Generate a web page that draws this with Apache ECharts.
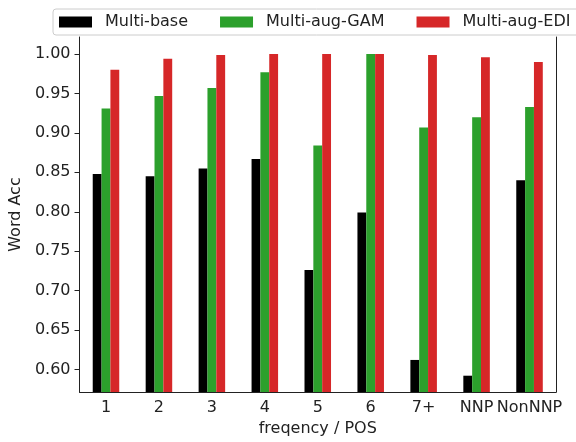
<!DOCTYPE html>
<html>
<head>
<meta charset="utf-8">
<script src="https://cdn.jsdelivr.net/npm/echarts@6/dist/echarts.min.js"></script>
<style>
  html, body { margin: 0; padding: 0; background: #fff; }
  #chart { width: 576px; height: 442px; }
</style>
</head>
<body>
<div id="chart"></div>
<script>
// categories on the x axis
const categories = ['1', '2', '3', '4', '5', '6', '7+', 'NNP', 'NonNNP'];
// word accuracy per system
const multiBase = [0.848, 0.845, 0.855, 0.867, 0.726, 0.799, 0.612, 0.592, 0.840];
const multiAugGam = [0.931, 0.947, 0.957, 0.977, 0.884, 1.000, 0.907, 0.920, 0.933];
const multiAugEdi = [0.980, 0.994, 0.999, 1.000, 1.000, 1.000, 0.999, 0.996, 0.990];
// y tick labels
const yTicks = [0.60, 0.65, 0.70, 0.75, 0.80, 0.85, 0.90, 0.95, 1.00];

const FONT = 'DejaVu Sans';
const chart = echarts.init(document.getElementById('chart'), null, { renderer: 'canvas' });

const axisLineStyle = { color: '#222', width: 1 };

chart.setOption({
  animation: false,
  textStyle: { fontFamily: FONT },
  grid: { left: 76, right: 20, top: 37, bottom: 46, containLabel: false },
  legend: {
    left: 53,
    top: 9,
    width: 600,
    padding: [5, 12, 5, 6],
    itemWidth: 33,
    itemHeight: 11,
    itemGap: 32,
    borderColor: '#cccccc',
    borderWidth: 1,
    borderRadius: 3,
    backgroundColor: 'rgba(255,255,255,0.8)',
    icon: 'rect',
    textStyle: { fontFamily: FONT, fontSize: 16, color: '#222', lineHeight: 16, padding: [0, 0, 0, 8] },
    data: ['Multi-base', 'Multi-aug-GAM', 'Multi-aug-EDI']
  },
  xAxis: {
    type: 'category',
    data: categories,
    boundaryGap: true,
    name: 'freqency / POS',
    nameLocation: 'middle',
    nameGap: 27,
    nameTextStyle: { fontFamily: FONT, fontSize: 16, color: '#222' },
    axisLine: { lineStyle: axisLineStyle },
    axisTick: { alignWithLabel: true, interval: 0, length: 5, lineStyle: axisLineStyle },
    axisLabel: { fontFamily: FONT, fontSize: 16, color: '#222', margin: 8, interval: 0 },
    splitLine: { show: false }
  },
  yAxis: [
    {
      type: 'value',
      min: 0.5712,
      max: 1.0217,
      name: 'Word Acc',
      nameLocation: 'middle',
      nameGap: 53,
      nameTextStyle: { fontFamily: FONT, fontSize: 16, color: '#222' },
      axisLine: { show: true, lineStyle: axisLineStyle },
      axisTick: { show: true, length: 5, lineStyle: axisLineStyle, customValues: yTicks },
      axisLabel: {
        fontFamily: FONT, fontSize: 16, color: '#222', margin: 9,
        customValues: yTicks,
        formatter: v => v.toFixed(2)
      },
      splitLine: { show: false }
    },
    {
      type: 'value',
      position: 'right',
      min: 0.5712,
      max: 1.0217,
      axisLine: { show: true, lineStyle: axisLineStyle },
      axisTick: { show: false },
      axisLabel: { show: false },
      splitLine: { show: false }
    }
  ],
  series: [
    { name: 'Multi-base', type: 'bar', data: multiBase, barWidth: '16.7%', barGap: '0%', itemStyle: { color: '#000000' } },
    { name: 'Multi-aug-GAM', type: 'bar', data: multiAugGam, barWidth: '16.7%', barGap: '0%', itemStyle: { color: '#2ca02c' } },
    { name: 'Multi-aug-EDI', type: 'bar', data: multiAugEdi, barWidth: '16.7%', barGap: '0%', itemStyle: { color: '#d62728' } }
  ]
});
</script>
</body>
</html>
